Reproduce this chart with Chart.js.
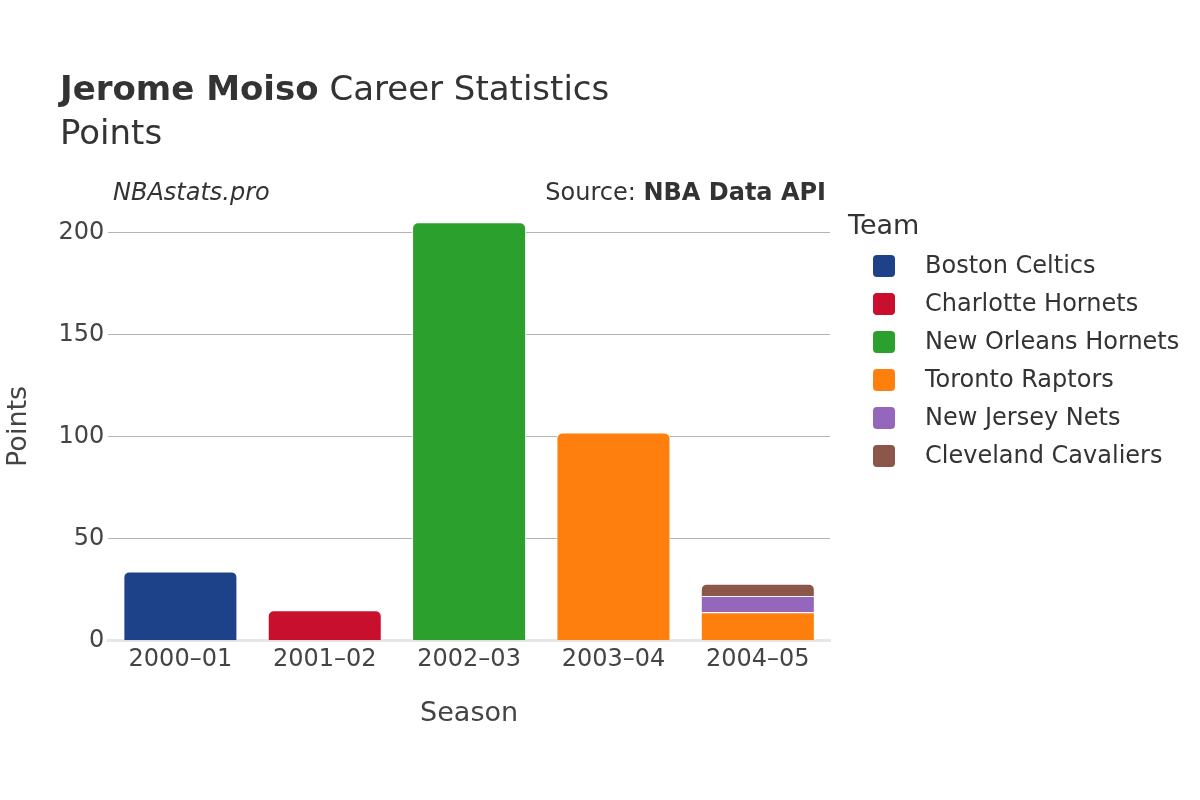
<!DOCTYPE html>
<html>
<head>
<meta charset="utf-8">
<script src="https://cdn.jsdelivr.net/npm/chart.js@4.4.1/dist/chart.umd.min.js"></script>
<style>
  body { margin: 0; background: #fff; font-family: "DejaVu Sans", sans-serif; }
  #wrap { position: relative; width: 1200px; height: 800px; }
  .txt { position: absolute; color: #333; white-space: nowrap; line-height: 1; }
</style>
</head>
<body>
<div id="wrap">
  <canvas id="chart" width="1200" height="800"></canvas>
  <div class="txt" style="left:60px; top:71px; font-size:34px;"><b>Jerome Moiso</b> Career Statistics</div>
  <div class="txt" style="left:60px; top:115px; font-size:34px;">Points</div>
  <div class="txt" style="left:113px; top:180px; font-size:24px; font-style:italic;">NBAstats.pro</div>
  <div class="txt" style="right:374px; top:180px; font-size:24px;">Source: <b>NBA Data API</b></div>
</div>
<script>
// Season labels and team points
const seasons = ['2000–01', '2001–02', '2002–03', '2003–04', '2004–05'];
const teams = ['Boston Celtics', 'Charlotte Hornets', 'New Orleans Hornets', 'Toronto Raptors', 'New Jersey Nets', 'Cleveland Cavaliers'];
const teamColors = ['#1d428a', '#c8102e', '#2ca02c', '#ff7f0e', '#9467bd', '#8c564b'];

const bostonPts = [34, null, null, null, null];
const charlottePts = [null, 15, null, null, null];
const newOrleansPts = [null, null, 205, null, null];
const torontoPts = [null, null, null, 102, 14];
const newJerseyPts = [null, null, null, null, 8];
const clevelandPts = [null, null, null, null, 6];

const yTicks = [0, 50, 100, 150, 200];

const teamSeries = [bostonPts, charlottePts, newOrleansPts, torontoPts, newJerseyPts, clevelandPts];

// only round the top segment of each stack
const topRadius = (ctx) => {
    const i = ctx.dataIndex;
    let top = -1;
    ctx.chart.data.datasets.forEach((d, k) => { if (d.data[i]) top = k; });
    return ctx.datasetIndex === top ? { topLeft: 6, topRight: 6, bottomLeft: 0, bottomRight: 0 } : 0;
};

// legend drawn at the right like the original
const sideLegend = {
    id: 'sideLegend',
    afterDraw(chart) {
        const ctx = chart.ctx;
        ctx.save();
        ctx.fillStyle = '#333';
        ctx.font = '27px "DejaVu Sans"';
        ctx.textBaseline = 'middle';
        ctx.fillText('Team', 848, 227);
        ctx.font = '24px "DejaVu Sans"';
        chart.data.datasets.forEach((ds, k) => {
            const y = 266 + k * 38;
            ctx.fillStyle = ds.backgroundColor;
            ctx.beginPath();
            ctx.roundRect(873, y - 11, 22, 22, 4);
            ctx.fill();
            ctx.fillStyle = '#333';
            ctx.fillText(ds.label, 925, y + 1);
        });
        ctx.restore();
    }
};

new Chart(document.getElementById('chart'), {
    type: 'bar',
    data: {
        labels: seasons,
        datasets: teams.map((t, k) => ({
            label: t,
            data: teamSeries[k],
            backgroundColor: teamColors[k],
            borderColor: '#ffffff',
            borderWidth: 1,
            borderSkipped: 'start',
            borderRadius: topRadius,
            barPercentage: 0.79,
            categoryPercentage: 1
        }))
    },
    options: {
        responsive: false,
        animation: false,
        devicePixelRatio: 1,
        layout: { padding: { top: 212, right: 370, bottom: 70, left: 0 } },
        scales: {
            x: {
                stacked: true,
                grid: { display: false, drawTicks: false },
                border: { display: true, color: '#e6e6e6', width: 3 },
                ticks: { font: { family: 'DejaVu Sans', size: 24 }, color: '#444', padding: 5 },
                title: { display: true, text: 'Season', font: { family: 'DejaVu Sans', size: 27 }, color: '#444', padding: { top: 18, bottom: 0 } }
            },
            y: {
                stacked: true,
                min: 0,
                max: 210,
                afterBuildTicks: (axis) => { axis.ticks = yTicks.map(v => ({ value: v })); },
                grid: {
                    drawTicks: false,
                    color: (c) => (c.tick && c.tick.value === 0) ? 'rgba(0,0,0,0)' : '#b4b4b4',
                    lineWidth: 1
                },
                border: { display: false },
                ticks: { font: { family: 'DejaVu Sans', size: 24 }, color: '#444', padding: 4 },
                title: { display: true, text: 'Points', font: { family: 'DejaVu Sans', size: 27 }, color: '#444', padding: { top: 3, bottom: 19 } }
            }
        },
        plugins: {
            legend: { display: false },
            tooltip: { enabled: false }
        }
    },
    plugins: [sideLegend]
});
</script>
</body>
</html>
